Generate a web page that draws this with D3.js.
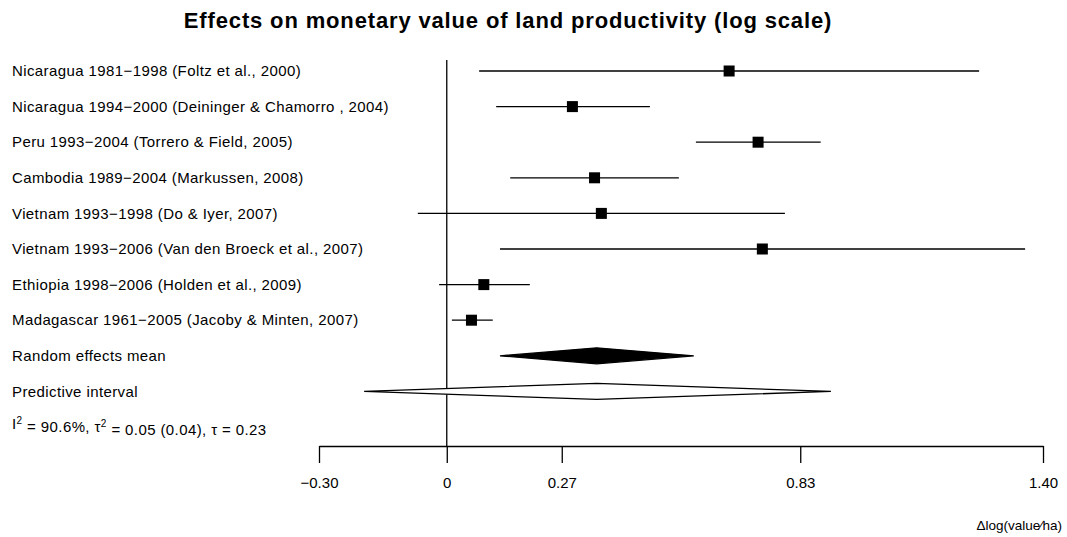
<!DOCTYPE html>
<html>
<head>
<meta charset="utf-8">
<script src="https://cdn.jsdelivr.net/npm/d3@7"></script>
<style>
  body { margin: 0; background: #fff; }
  svg { display: block; font-family: "Liberation Sans", Arial, sans-serif; }
</style>
</head>
<body>
<div id="chart"></div>
<script>
// studies
let studies = [
    "Nicaragua 1981\u22121998 (Foltz et al., 2000)",
    "Nicaragua 1994\u22122000 (Deininger & Chamorro , 2004)",
    "Peru 1993\u22122004 (Torrero & Field, 2005)",
    "Cambodia 1989\u22122004 (Markussen, 2008)",
    "Vietnam 1993\u22121998 (Do & Iyer, 2007)",
    "Vietnam 1993\u22122006 (Van den Broeck et al., 2007)",
    "Ethiopia 1998\u22122006 (Holden et al., 2009)",
    "Madagascar 1961\u22122005 (Jacoby & Minten, 2007)"
]
let estimates = [0.663, 0.295, 0.731, 0.347, 0.363, 0.741, 0.087, 0.058]
let lowers    = [0.076, 0.116, 0.585, 0.149, -0.068, 0.125, -0.018, 0.012]
let uppers    = [1.250, 0.477, 0.878, 0.545, 0.794, 1.358, 0.195, 0.108]

// summary rows
let summaryLabels = ["Random effects mean", "Predictive interval"]
let reMean = [0.352, 0.125, 0.580]     // est, lower, upper
let predInt = [0.352, -0.194, 0.902]

let tickValues = [-0.30, 0, 0.27, 0.83, 1.40]
let tickLabels = ["\u22120.30", "0", "0.27", "0.83", "1.40"]

let width = 1067
let height = 537

let svg = d3.select("#chart")
    .append("svg")
    .attr("width", width)
    .attr("height", height)

let rows = studies.concat(summaryLabels).concat(["stats"])

let scaleX = d3.scaleLinear()
    .domain([-0.30, 1.40])
    .range([319, 1043])

let scaleY = d3.scalePoint()
    .domain(rows)
    .range([71, 427])

// title
svg.append("text")
    .attr("x", 508)
    .attr("y", 28)
    .attr("text-anchor", "middle")
    .style("font-size", "22px")
    .style("font-weight", "bold")
    .style("letter-spacing", "0.85px")
    .text("Effects on monetary value of land productivity (log scale)")

// row labels
svg.selectAll(".rowlabel")
    .data(studies.concat(summaryLabels))
    .enter()
    .append("text")
    .attr("class", "rowlabel")
    .attr("x", 12)
    .attr("y", d => scaleY(d))
    .attr("dy", "0.35em")
    .style("font-size", "15px")
    .style("letter-spacing", "0.4px")
    .text(d => d)

// heterogeneity stats
let stat = svg.append("text")
    .attr("x", 12)
    .attr("y", scaleY("stats") - 3)
    .attr("dy", "0.35em")
    .style("font-size", "15px")
    .style("letter-spacing", "0.4px")
stat.append("tspan").text("I")
stat.append("tspan").attr("dy", "-0.55em").style("font-size", "10px").text("2")
stat.append("tspan").attr("dy", "0.55em").text(" = 90.6%, \u03c4")
stat.append("tspan").attr("dy", "-0.55em").style("font-size", "10px").text("2")
stat.append("tspan").attr("dy", "0.55em").text(" = 0.05 (0.04), \u03c4 = 0.23")

// x axis
let axisX = d3.axisBottom(scaleX)
    .tickValues(tickValues)
    .tickFormat((d, i) => tickLabels[i])
    .tickSize(17)
    .tickSizeOuter(0)
    .tickPadding(14)

let gx = svg.append("g")
    .attr("transform", "translate(0, 446)")
    .call(axisX)
gx.selectAll("line, path").attr("stroke", "#000").attr("stroke-width", 1.3)
gx.selectAll("text")
    .style("font-size", "15px")
    .style("font-family", "'Liberation Sans', Arial, sans-serif")
    .attr("fill", "#000")

// axis title
svg.append("text")
    .attr("x", 1062)
    .attr("y", 530)
    .attr("text-anchor", "end")
    .style("font-size", "13.5px")
    .text("\u0394log(value\u2215ha)")

// zero line
svg.append("line")
    .attr("x1", scaleX(0))
    .attr("x2", scaleX(0))
    .attr("y1", 60)
    .attr("y2", 446)
    .attr("stroke", "#000")
    .attr("stroke-width", 1.3)

// confidence intervals
let data = studies.map((s, i) => ({label: s, est: estimates[i], lo: lowers[i], hi: uppers[i]}))

svg.selectAll(".ci")
    .data(data)
    .enter()
    .append("line")
    .attr("x1", d => scaleX(d.lo))
    .attr("x2", d => scaleX(d.hi))
    .attr("y1", d => scaleY(d.label))
    .attr("y2", d => scaleY(d.label))
    .attr("stroke", "#000")
    .attr("stroke-width", 1.3)

let sq = 11
svg.selectAll(".pt")
    .data(data)
    .enter()
    .append("rect")
    .attr("x", d => scaleX(d.est) - sq / 2)
    .attr("y", d => scaleY(d.label) - sq / 2)
    .attr("width", sq)
    .attr("height", sq)
    .attr("fill", "#000")

// diamonds
function diamond(vals, row, fill) {
    let yc = scaleY(row)
    let h = 8
    let pts = [
        [scaleX(vals[1]), yc],
        [scaleX(vals[0]), yc - h],
        [scaleX(vals[2]), yc],
        [scaleX(vals[0]), yc + h]
    ]
    svg.append("polygon")
        .attr("points", pts.map(p => p.join(",")).join(" "))
        .attr("fill", fill)
        .attr("stroke", "#000")
        .attr("stroke-width", 1.3)
}
diamond(reMean, summaryLabels[0], "#000")
diamond(predInt, summaryLabels[1], "#fff")
</script>
</body>
</html>
